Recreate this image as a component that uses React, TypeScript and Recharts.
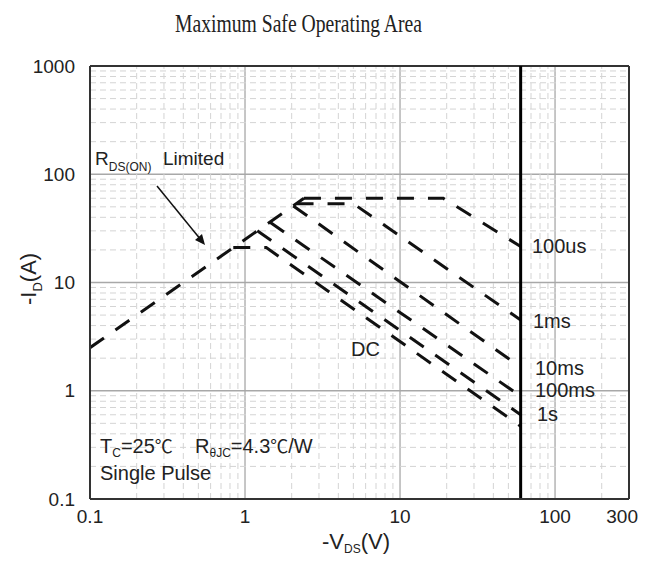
import React from 'react';
import { LineChart, Line, XAxis, YAxis, CartesianGrid, ReferenceLine } from 'recharts';

// ---- axis ticks ----
const xTicks = [0.1, 1, 10, 100, 300];
const yTicks = [0.1, 1, 10, 100, 1000];
const xMinor = [0.2, 0.3, 0.4, 0.5, 0.6, 0.7, 0.8, 0.9, 2, 3, 4, 5, 6, 7, 8, 9, 20, 30, 40, 50, 60, 70, 80, 90, 200];
const yMinor = [0.2, 0.3, 0.4, 0.5, 0.6, 0.7, 0.8, 0.9, 2, 3, 4, 5, 6, 7, 8, 9, 20, 30, 40, 50, 60, 70, 80, 90, 200, 300, 400, 500, 600, 700, 800, 900];

// ---- series (V in volts, I in amps) ----
const rdsV = [0.1, 2.4];
const rdsI = [2.5, 60];
const dcV = [0.84, 1.37, 60];
const dcI = [21, 21, 0.47];
const s1V = [1.2, 60];
const s1I = [30, 0.6];
const ms100V = [1.45, 60];
const ms100I = [36, 0.89];
const ms10V = [2.05, 60];
const ms10I = [51, 1.65];
const ms1V = [2.15, 5, 60];
const ms1I = [53.5, 53.5, 4.5];
const us100V = [2.4, 19, 60];
const us100I = [60, 60, 21.5];
const vdsMax = 60;

const toPts = (v: number[], i: number[]) => v.map((x, k) => ({ v: x, i: i[k] }));

const series = [
  { name: 'RDS', pts: toPts(rdsV, rdsI) },
  { name: 'DC', pts: toPts(dcV, dcI) },
  { name: '1s', pts: toPts(s1V, s1I) },
  { name: '100ms', pts: toPts(ms100V, ms100I) },
  { name: '10ms', pts: toPts(ms10V, ms10I) },
  { name: '1ms', pts: toPts(ms1V, ms1I) },
  { name: '100us', pts: toPts(us100V, us100I) },
];

const FONT = '"Liberation Sans", Arial, sans-serif';
const TXT = '#222';

const XTick = (props: any) => {
  const { x, y, payload } = props;
  const last = payload.value === xTicks[xTicks.length - 1];
  return (
    <text
      x={last ? x + 9 : x}
      y={y}
      dy="0.71em"
      textAnchor={last ? 'end' : 'middle'}
      fill={TXT}
      fontSize={19}
      fontFamily={FONT}
    >
      {String(payload.value)}
    </text>
  );
};

export default function App() {
  return (
    <div style={{ position: 'relative', width: 631, height: 547 }}>
      <LineChart width={631} height={547} margin={{ top: 58, right: 10, left: 12, bottom: 26 }}>
        <CartesianGrid stroke="#a8a8a8" strokeWidth={1.3} />
        {xMinor.map((x) => (
          <ReferenceLine key={'xm' + x} x={x} stroke="#d4d4d4" strokeDasharray="6 4" strokeWidth={1} />
        ))}
        {yMinor.map((y) => (
          <ReferenceLine key={'ym' + y} y={y} stroke="#d4d4d4" strokeDasharray="6 4" strokeWidth={1} />
        ))}
        <XAxis
          dataKey="v"
          type="number"
          scale="log"
          domain={[0.1, 300]}
          ticks={xTicks}
          interval={0}
          allowDataOverflow
          height={30}
          tickLine={false}
          tickMargin={5}
          axisLine={{ stroke: '#333', strokeWidth: 2 }}
          tick={<XTick />}
        />
        <YAxis
          dataKey="i"
          type="number"
          scale="log"
          domain={[0.1, 1000]}
          ticks={yTicks}
          interval={0}
          allowDataOverflow
          width={70}
          tickLine={false}
          tickMargin={9}
          axisLine={{ stroke: '#333', strokeWidth: 2 }}
          tick={{ fill: TXT, fontSize: 19, fontFamily: FONT }}
          tickFormatter={(t: number) => String(t)}
        />
        <ReferenceLine x={300} stroke="#333" strokeWidth={2} />
        <ReferenceLine y={1000} stroke="#333" strokeWidth={2} />
        {series.map((s) => (
          <Line
            key={s.name}
            data={s.pts}
            dataKey="i"
            type="linear"
            stroke="#111"
            strokeWidth={3}
            strokeDasharray="17 14"
            dot={false}
            activeDot={false}
            isAnimationActive={false}
          />
        ))}
        <ReferenceLine x={vdsMax} stroke="#000" strokeWidth={3} />
      </LineChart>
      <svg
        width={639}
        height={555}
        style={{ position: 'absolute', left: -8, top: -8, pointerEvents: 'none' }}
      >
        <text x={175} y={32} fontFamily='"Liberation Serif", "Times New Roman", serif' fontSize={25} fill="#222" textLength={247} lengthAdjust="spacingAndGlyphs">
          Maximum Safe Operating Area
        </text>
        <g fontFamily={FONT} fill={TXT}>
          <text x={95} y={165} fontSize={19}>
            R<tspan fontSize={12} dy={6}>DS(ON)</tspan>
            <tspan x={163} dy={-6} fontSize={19}>Limited</tspan>
          </text>
          <text x={532} y={252.5} fontSize={20}>100us</text>
          <text x={533} y={328} fontSize={20}>1ms</text>
          <text x={535} y={375} fontSize={20}>10ms</text>
          <text x={535} y={397} fontSize={20}>100ms</text>
          <text x={537} y={420.5} fontSize={20}>1s</text>
          <text x={351} y={356} fontSize={20}>DC</text>
          <text x={100} y={453} fontSize={20}>
            T<tspan fontSize={12} dy={4}>C</tspan>
            <tspan dy={-4}>=25</tspan>
            <tspan fontFamily='"Noto Sans CJK SC", sans-serif' fontSize={18}>℃</tspan>
            <tspan x={195}>R</tspan>
            <tspan fontSize={12} dy={4}>θJC</tspan>
            <tspan dy={-4}>=4.3</tspan>
            <tspan fontFamily='"Noto Sans CJK SC", sans-serif' fontSize={18}>℃</tspan>
            <tspan>/W</tspan>
          </text>
          <text x={100} y={480} fontSize={20}>Single Pulse</text>
          <text x={322} y={549} fontSize={22}>
            -V<tspan fontSize={12} dy={4}>DS</tspan>
            <tspan dy={-4}>(V)</tspan>
          </text>
          <text transform="translate(36,305) rotate(-90)" fontSize={22}>
            -I<tspan fontSize={13} dy={6}>D</tspan>
            <tspan dy={-6}>(A)</tspan>
          </text>
        </g>
        <line x1={157} y1={186} x2={201} y2={240} stroke="#111" strokeWidth={1.5} />
        <polygon points="205,245 195,240 202,234" fill="#111" />
      </svg>
    </div>
  );
}
